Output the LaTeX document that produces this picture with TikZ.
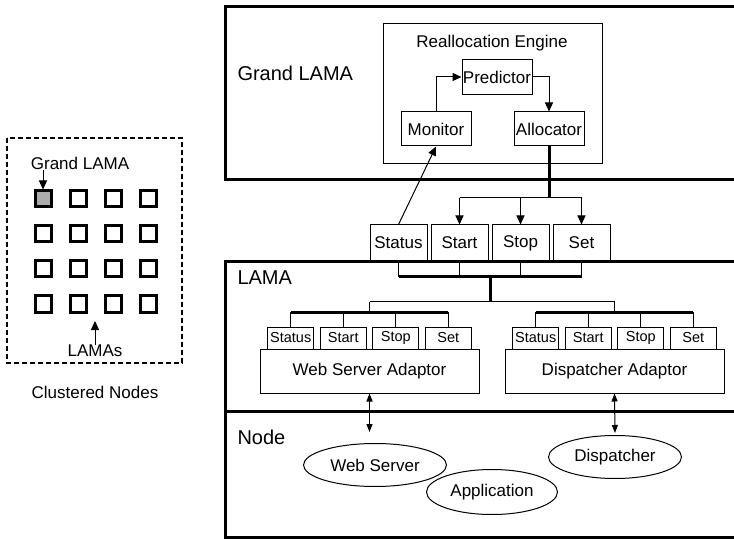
\documentclass[tikz,border=0pt]{standalone}
\usepackage{fontspec}
\setmainfont{Liberation Sans}
\usetikzlibrary{shapes.geometric,arrows.meta}
\begin{document}
\begin{tikzpicture}[x=1pt,y=-1pt,line width=1pt,
    box/.style={draw,fill=white,inner sep=0pt,font=\fontsize{17}{20}\selectfont},
    sbox/.style={draw,fill=white,inner sep=0pt,minimum width=46pt,minimum height=22pt,font=\fontsize{14.5}{16}\selectfont},
    txt/.style={inner sep=0pt,font=\fontsize{17}{20}\selectfont},
    big/.style={anchor=west,inner sep=0pt,font=\fontsize{20}{24}\selectfont},
    panel/.style={line width=3pt},
    bus/.style={line width=3pt},
    cell/.style={draw,fill=white,line width=3pt,minimum size=16pt,inner sep=0pt},
    app/.style={draw,ellipse,inner sep=0pt,font=\fontsize{17}{20}\selectfont},
    arr/.style={-{Triangle[length=9pt,width=8pt]}},
    darr/.style={{Triangle[length=8pt,width=6pt]}-{Triangle[length=8pt,width=6pt]}}]
  \useasboundingbox (0,0) rectangle (734,540);
  \draw[line width=1.5pt,dash pattern=on 5pt off 3pt] (7,138) rectangle (182,363);
  \node[txt] (gsmall) at (80,163) {Grand LAMA};
  \foreach \i in {0,...,3}
    \foreach \j in {0,...,3}
      \node[cell] (c\i\j) at (43+35*\i,199+35*\j) {};
  \node[cell,fill=gray!65] at (c00) {};
  \draw[arr] (gsmall.south -| c00) -- (c00.north);
  \node[txt] (lamas) at (95,351) {LAMAs};
  \coordinate (lp) at (95,321);
  \draw[arr] (lamas.north) -- (lp);
  \node[txt] (clus) at (95,392) {Clustered Nodes};
  \draw[panel] (734,7) -| (225,180) -- (734,180);
  \draw[panel] (734,262) -| (225,537) -- (734,537);
  \draw[panel] (225,411) -- (734,411);
  \node[big] (lgl) at (237,73) {Grand LAMA};
  \node[big] (llama) at (237,278) {LAMA};
  \node[big] (lnode) at (237,437) {Node};
  \node[box,minimum width=219pt,minimum height=140pt] (eng) at (492.5,94) {};
  \node[txt] (englbl) at (492,43) {Reallocation Engine};
  \node[box,minimum width=70pt,minimum height=35pt] (pred) at (497,77) {Predictor};
  \node[box,minimum width=70pt,minimum height=34pt] (mon) at (436,129) {Monitor};
  \node[box,minimum width=70pt,minimum height=34pt] (alloc) at (549,129) {Allocator};
  \draw[arr] (mon.north) |- (pred.west);
  \draw[arr] (pred.east) -| (alloc.north);
  \foreach \n/\t [count=\k] in {status/Status,start/Start,stop/Stop,setb/Set}
    \node[box,minimum width=57pt,minimum height=36pt] (\n) at (337.5+61*\k,243) {\t};
  \draw[arr] (status.north) -- (mon.south);
  \coordinate (tb) at (549,198);
  \draw[bus] (alloc.south) -- (tb);
  \draw (start.north |- tb) -- (setb.north |- tb);
  \foreach \b in {start,stop,setb}
    \draw[arr] (\b.north |- tb) -- (\b.north);
  \coordinate (jb) at (490,277);
  \coordinate (jc) at (490,302);
  \foreach \b in {status,start,stop,setb}
    \draw (\b.south) -- (\b.south |- jb);
  \draw[bus] (status.south |- jb) -- (setb.south |- jb);
  \draw[bus] (jb) -- (jc);
  \foreach \g/\gx/\gt in {w/369.5/Web Server Adaptor,d/614.5/Dispatcher Adaptor}{
    \node[box,minimum width=219pt,minimum height=44pt] (\g ad) at (\gx,371) {\gt};
    \coordinate (\g b) at (\gx,312);
    \foreach \n/\t [count=\k] in {st/Status,sa/Start,so/Stop,se/Set}{
      \node[sbox] (\g\n) at (\gx-131.25+52.5*\k,338) {\t};
      \draw (\g\n.north) -- (\g\n.north |- \g b);
    }
    \draw[bus] (\g st.north |- \g b) -- (\g se.north |- \g b);
  }
  \draw (wb |- jc) -- (db |- jc);
  \draw (wb |- jc) -- (wb);
  \draw (db |- jc) -- (db);
  \node[app,minimum width=143pt,minimum height=43pt] (ws) at (375,465) {Web Server};
  \node[app,minimum width=133pt,minimum height=43pt] (disp) at (615,457) {Dispatcher};
  \node[app,minimum width=131pt,minimum height=45pt] (appl) at (492,492) {Application};
  \draw[darr,shorten >=11pt] (wad.south) -- (wad.south |- ws.north);
  \draw[darr,shorten >=2pt] (dad.south) -- (disp.north);
\end{tikzpicture}
\end{document}
